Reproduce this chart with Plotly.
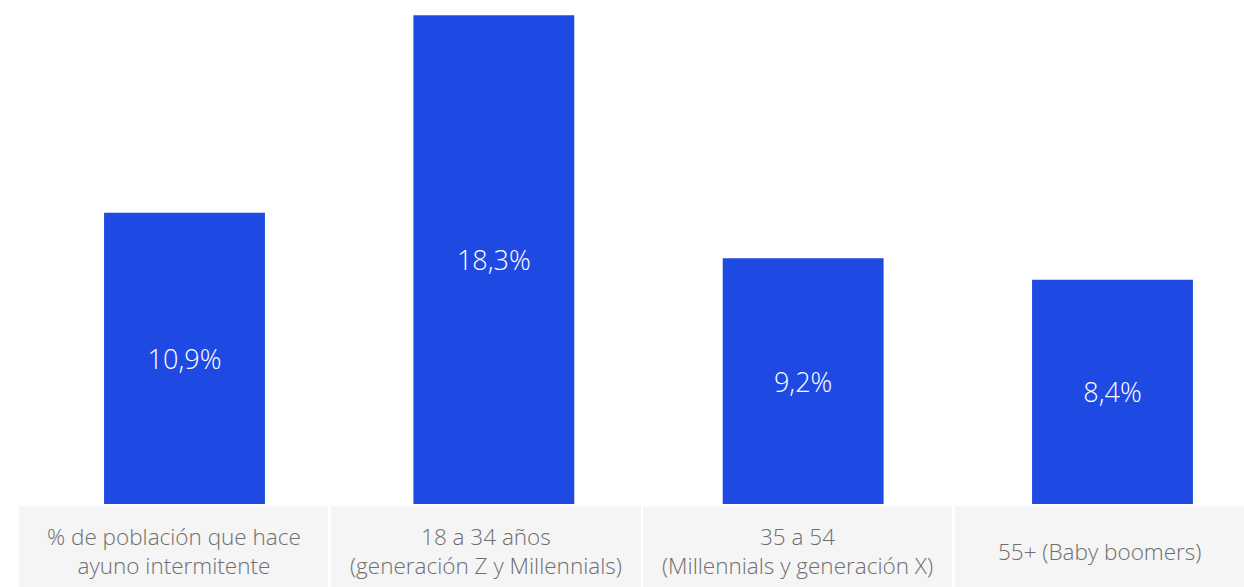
import plotly.graph_objects as go

# Share of the population practising intermittent fasting, by age group
categories = [
    "% de población que hace<br>ayuno intermitente",
    "18 a 34 años<br>(generación Z y Millennials)",
    "35 a 54<br>(Millennials y generación X)",
    "55+ (Baby boomers)",
]
values = [10.9, 18.3, 9.2, 8.4]
value_labels = ["10,9%", "18,3%", "9,2%", "8,4%"]

BAR_BLUE = "#1E49E2"
BOX_GREY = "#F5F5F5"
TEXT_GREY = "#6E6E6E"
FONT = "Open Sans"

W, H = 1244, 587
PLOT_BOTTOM = 503.7          # pixel row of the bar baseline
PX_PER_CAT = 309.33          # horizontal spacing between bars
FIRST_CENTER = 184.5         # pixel column of the first bar centre
LABEL_MID = 551              # vertical centre of the label block, px

fig = go.Figure(
    go.Bar(
        x=list(range(len(values))),
        y=values,
        width=0.52,
        marker=dict(color=BAR_BLUE, line=dict(width=0)),
        text=value_labels,
        textposition="inside",
        insidetextanchor="middle",
        textfont=dict(family=FONT, size=27, color="white", weight=300),
        hoverinfo="skip",
    )
)

# Grey label boxes under the bars (pixel columns)
box_edges = [(19, 328), (331, 641), (643, 952), (955, 1244)]
box_top_px, box_bottom_px = 506, 587


def py_to_paper(py):
    return (PLOT_BOTTOM - py) / PLOT_BOTTOM


shapes = []
annotations = []
for (x0, x1), label in zip(box_edges, categories):
    shapes.append(dict(
        type="rect", xref="paper", yref="paper",
        x0=x0 / W, x1=x1 / W,
        y0=py_to_paper(box_bottom_px), y1=py_to_paper(box_top_px),
        fillcolor=BOX_GREY, line=dict(width=0), layer="below",
    ))
    annotations.append(dict(
        xref="paper", yref="paper",
        x=(x0 + x1) / 2 / W, y=py_to_paper(LABEL_MID),
        text=label, showarrow=False,
        xanchor="center", yanchor="middle", align="center",
        font=dict(family=FONT, size=22.5, color=TEXT_GREY, weight=300),
    ))

fig.update_layout(
    width=W, height=H,
    margin=dict(l=0, r=0, t=0, b=H - PLOT_BOTTOM),
    paper_bgcolor="white", plot_bgcolor="white",
    showlegend=False,
    shapes=shapes,
    annotations=annotations,
    xaxis=dict(
        range=[-FIRST_CENTER / PX_PER_CAT, (W - FIRST_CENTER) / PX_PER_CAT],
        showticklabels=False, showgrid=False, zeroline=False, fixedrange=True,
    ),
    yaxis=dict(
        range=[0, 18.87],
        showticklabels=False, showgrid=False, zeroline=False, fixedrange=True,
    ),
    uniformtext=dict(mode=False),
)

fig.write_html("out.html")
